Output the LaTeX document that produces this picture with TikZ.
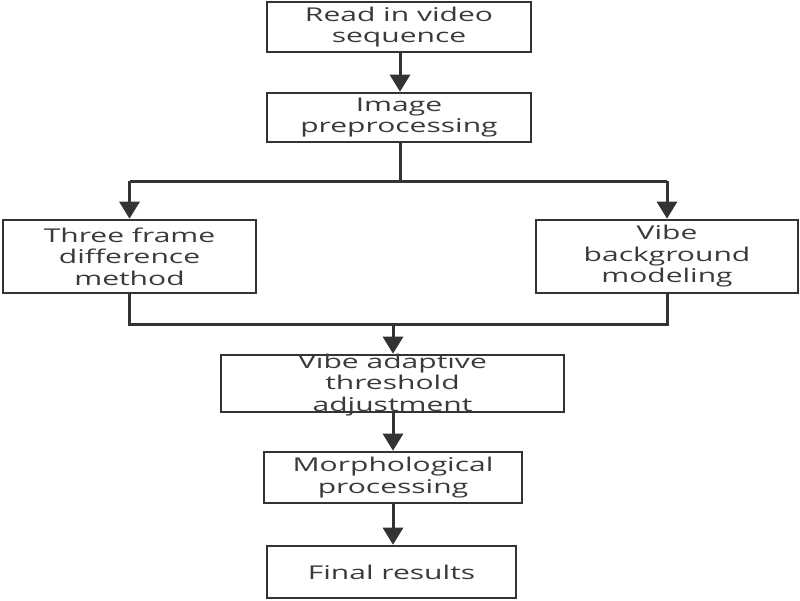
\documentclass[tikz,border=0pt]{standalone}
\usepackage{fontspec}
\setmainfont{Open Sans}[FakeStretch=1.58]
\usetikzlibrary{arrows.meta}
\definecolor{lc}{HTML}{333333}
\definecolor{tc}{HTML}{3A3A3A}
\begin{document}
\begin{tikzpicture}[x=1pt,y=-1pt,
  box/.style={draw=lc,line width=2.6pt,fill=white,inner sep=0pt,align=center,
    text=tc,font=\fontsize{19}{21.5}\selectfont},
  conn/.style={draw=lc,line width=3pt},
  arr/.style={conn,-{Triangle[width=20pt,length=17pt]}},
  txt/.style={inner sep=0pt,align=center,text=tc,font=\fontsize{19}{21.5}\selectfont}]
\useasboundingbox (0,0) rectangle (800,600);
\node[box,minimum width=264pt,minimum height=50pt] (b1) at (399,27) {Read in video\\sequence};
\node[box,minimum width=264pt,minimum height=49pt] (b2) at (399,117.5) {Image\\preprocessing};
\node[box,minimum width=253pt,minimum height=73pt] (b3) at (129.5,256.5) {Three frame\\difference\\method};
\node[box,minimum width=262pt,minimum height=73pt] (b4) at (667,256.5) {Vibe\\background\\modeling};
\node[box,minimum width=343pt,minimum height=57pt] (b5) at (392.5,383.5) {};
\node[txt] (b5t) at (392.5,385) {Vibe adaptive\\threshold\\adjustment};
\node[box,minimum width=258pt,minimum height=51pt] (b6) at (393,477.5) {Morphological\\processing};
\node[box,minimum width=249pt,minimum height=52pt] (b7) at (391.5,572) {Final results};
\coordinate (j1) at (400,181);
\coordinate (j2) at (393,324);
\draw[arr] (b1.south -| j1) -- (b2.north -| j1);
\draw[conn] (b2.south -| j1) -- (j1);
\draw[conn] (j1 -| b3.north) -- (j1 -| b4.north);
\draw[arr] (j1 -| b3.north) -- (b3.north);
\draw[arr] (j1 -| b4.north) -- (b4.north);
\draw[conn] (b3.south) -- (j2 -| b3.south) -- (j2 -| b4.south) -- (b4.south);
\draw[arr] (j2) -- (b5.north -| j2);
\draw[arr] (b5.south -| j2) -- (b6.north -| j2);
\draw[arr] (b6.south -| j2) -- (b7.north -| j2);
\end{tikzpicture}
\end{document}
